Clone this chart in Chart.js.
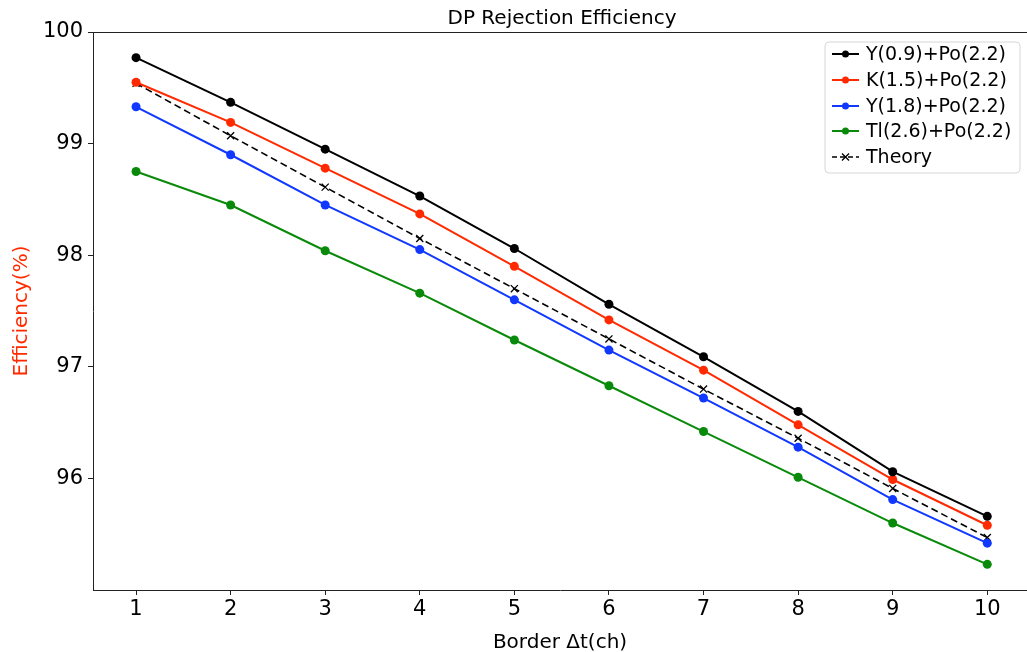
<!DOCTYPE html>
<html>
<head>
<meta charset="utf-8">
<title>DP Rejection Efficiency</title>
<script src="https://cdn.jsdelivr.net/npm/chart.js@4.4.1/dist/chart.umd.min.js"></script>
<style>
  html, body { margin: 0; padding: 0; background: #ffffff; }
  #wrap { width: 1027px; height: 652px; position: relative; }
</style>
</head>
<body>
<div id="wrap"><canvas id="chart" width="1027" height="652"></canvas></div>
<script>
// Border window width in channels
const borderCh = [1, 2, 3, 4, 5, 6, 7, 8, 9, 10];

// Rejection efficiency (%) for each coincidence pair
const y09Po22 = [99.77, 99.37, 98.95, 98.53, 98.06, 97.56, 97.09, 96.60, 96.06, 95.66];
const k15Po22 = [99.55, 99.19, 98.78, 98.37, 97.90, 97.42, 96.97, 96.48, 95.99, 95.58];
const y18Po22 = [99.33, 98.90, 98.45, 98.05, 97.60, 97.15, 96.72, 96.28, 95.81, 95.42];
const tl26Po22 = [98.75, 98.45, 98.04, 97.66, 97.24, 96.83, 96.42, 96.01, 95.60, 95.23];
const theory = [99.54, 99.07, 98.61, 98.15, 97.70, 97.25, 96.80, 96.36, 95.91, 95.47];

// Tick positions
const xTicks = [1, 2, 3, 4, 5, 6, 7, 8, 9, 10];
const yTicks = [96, 97, 98, 99, 100];

const seriesNames = ['Y(0.9)+Po(2.2)', 'K(1.5)+Po(2.2)', 'Y(1.8)+Po(2.2)', 'Tl(2.6)+Po(2.2)', 'Theory'];
const seriesColors = ['#000000', '#ff2a00', '#1038ff', '#0a8a0a', '#000000'];

const FONT = "'DejaVu Sans', sans-serif";

function toPoints(vals) {
  return borderCh.map((x, i) => ({ x: x, y: vals[i] }));
}

function solidSeries(idx, vals) {
  return {
    label: seriesNames[idx],
    data: toPoints(vals),
    borderColor: seriesColors[idx],
    backgroundColor: seriesColors[idx],
    borderWidth: 2,
    pointRadius: 4.5,
    pointHoverRadius: 4.5,
    pointBorderWidth: 0,
    pointStyle: 'circle',
    tension: 0,
    fill: false
  };
}

const datasets = [
  solidSeries(0, y09Po22),
  solidSeries(1, k15Po22),
  solidSeries(2, y18Po22),
  solidSeries(3, tl26Po22),
  {
    label: seriesNames[4],
    data: toPoints(theory),
    borderColor: seriesColors[4],
    backgroundColor: seriesColors[4],
    borderWidth: 1.6,
    borderDash: [7, 4],
    pointStyle: 'crossRot',
    pointRadius: 5,
    pointHoverRadius: 5,
    pointBorderWidth: 1.3,
    tension: 0,
    fill: false
  }
];

// Title, top frame line and the boxed legend with line+marker handles
const decorations = {
  id: 'decorations',
  afterDraw(chart) {
    const ctx = chart.ctx;
    const area = chart.chartArea;
    ctx.save();

    // top frame line
    ctx.strokeStyle = '#222222';
    ctx.lineWidth = 1;
    ctx.beginPath();
    ctx.moveTo(area.left, area.top + 0.5);
    ctx.lineTo(area.right, area.top + 0.5);
    ctx.stroke();

    // title
    ctx.fillStyle = '#000000';
    ctx.font = '20px ' + FONT;
    ctx.textAlign = 'center';
    ctx.textBaseline = 'middle';
    ctx.fillText('DP Rejection Efficiency', 562, 19);

    // legend box
    const bx = 825, by = 42, bw = 195, bh = 131, r = 4;
    ctx.beginPath();
    ctx.moveTo(bx + r, by);
    ctx.lineTo(bx + bw - r, by);
    ctx.arcTo(bx + bw, by, bx + bw, by + r, r);
    ctx.lineTo(bx + bw, by + bh - r);
    ctx.arcTo(bx + bw, by + bh, bx + bw - r, by + bh, r);
    ctx.lineTo(bx + r, by + bh);
    ctx.arcTo(bx, by + bh, bx, by + bh - r, r);
    ctx.lineTo(bx, by + r);
    ctx.arcTo(bx, by, bx + r, by, r);
    ctx.closePath();
    ctx.fillStyle = 'rgba(255,255,255,0.85)';
    ctx.fill();
    ctx.strokeStyle = '#d6d6d6';
    ctx.lineWidth = 1;
    ctx.stroke();

    const rows = [54, 80, 106, 131, 157];
    ctx.font = '19px ' + FONT;
    ctx.textAlign = 'left';
    ctx.textBaseline = 'middle';
    rows.forEach((ry, i) => {
      const c = seriesColors[i];
      ctx.strokeStyle = c;
      ctx.fillStyle = c;
      ctx.lineWidth = i === 4 ? 1.6 : 2;
      ctx.setLineDash(i === 4 ? [5, 3] : []);
      ctx.beginPath();
      ctx.moveTo(832, ry);
      ctx.lineTo(859, ry);
      ctx.stroke();
      ctx.setLineDash([]);
      if (i === 4) {
        ctx.lineWidth = 1.3;
        ctx.beginPath();
        ctx.moveTo(845.5 - 3.5, ry - 3.5);
        ctx.lineTo(845.5 + 3.5, ry + 3.5);
        ctx.moveTo(845.5 - 3.5, ry + 3.5);
        ctx.lineTo(845.5 + 3.5, ry - 3.5);
        ctx.stroke();
      } else {
        ctx.beginPath();
        ctx.arc(845.5, ry, 3.5, 0, Math.PI * 2);
        ctx.fill();
      }
      ctx.fillStyle = '#000000';
      ctx.fillText(seriesNames[i], 866, ry + 1);
    });

    ctx.restore();
  }
};

new Chart(document.getElementById('chart'), {
  type: 'line',
  data: { datasets: datasets },
  plugins: [decorations],
  options: {
    responsive: false,
    animation: false,
    events: [],
    layout: { autoPadding: false, padding: { top: 32, left: 0, right: 0, bottom: 0 } },
    plugins: {
      legend: { display: false },
      title: { display: false },
      tooltip: { enabled: false }
    },
    scales: {
      x: {
        type: 'linear',
        min: 0.545,
        max: 10.42,
        afterBuildTicks(scale) { scale.ticks = xTicks.map(v => ({ value: v })); },
        afterFit(scale) {
          scale.height = 62;
          scale.paddingLeft = 0;
          scale.paddingRight = 0;
        },
        grid: { display: true, drawOnChartArea: false, drawTicks: true, tickLength: 5, color: '#222222', tickWidth: 1 },
        border: { display: true, color: '#222222', width: 1 },
        ticks: {
          color: '#000000',
          font: { family: FONT, size: 21 },
          padding: 2,
          maxRotation: 0,
          autoSkip: false,
          callback: v => String(v)
        },
        title: {
          display: true,
          text: 'Border Δt(ch)',
          color: '#000000',
          font: { family: FONT, size: 20 },
          padding: { top: 0, bottom: -3 }
        }
      },
      y: {
        type: 'linear',
        min: 95.0,
        max: 100,
        afterBuildTicks(scale) { scale.ticks = yTicks.map(v => ({ value: v })); },
        afterFit(scale) {
          scale.width = 93;
          scale.paddingTop = 0;
          scale.paddingBottom = 0;
        },
        grid: { display: true, drawOnChartArea: false, drawTicks: true, tickLength: 5, color: '#222222', tickWidth: 1 },
        border: { display: true, color: '#222222', width: 1 },
        ticks: {
          color: '#000000',
          font: { family: FONT, size: 21 },
          padding: 5,
          autoSkip: false,
          callback: v => String(v)
        },
        title: {
          display: true,
          text: 'Efficiency(%)',
          color: '#ff2a00',
          font: { family: FONT, size: 20 },
          padding: { top: 10, bottom: 0 }
        }
      }
    }
  }
});
</script>
</body>
</html>
